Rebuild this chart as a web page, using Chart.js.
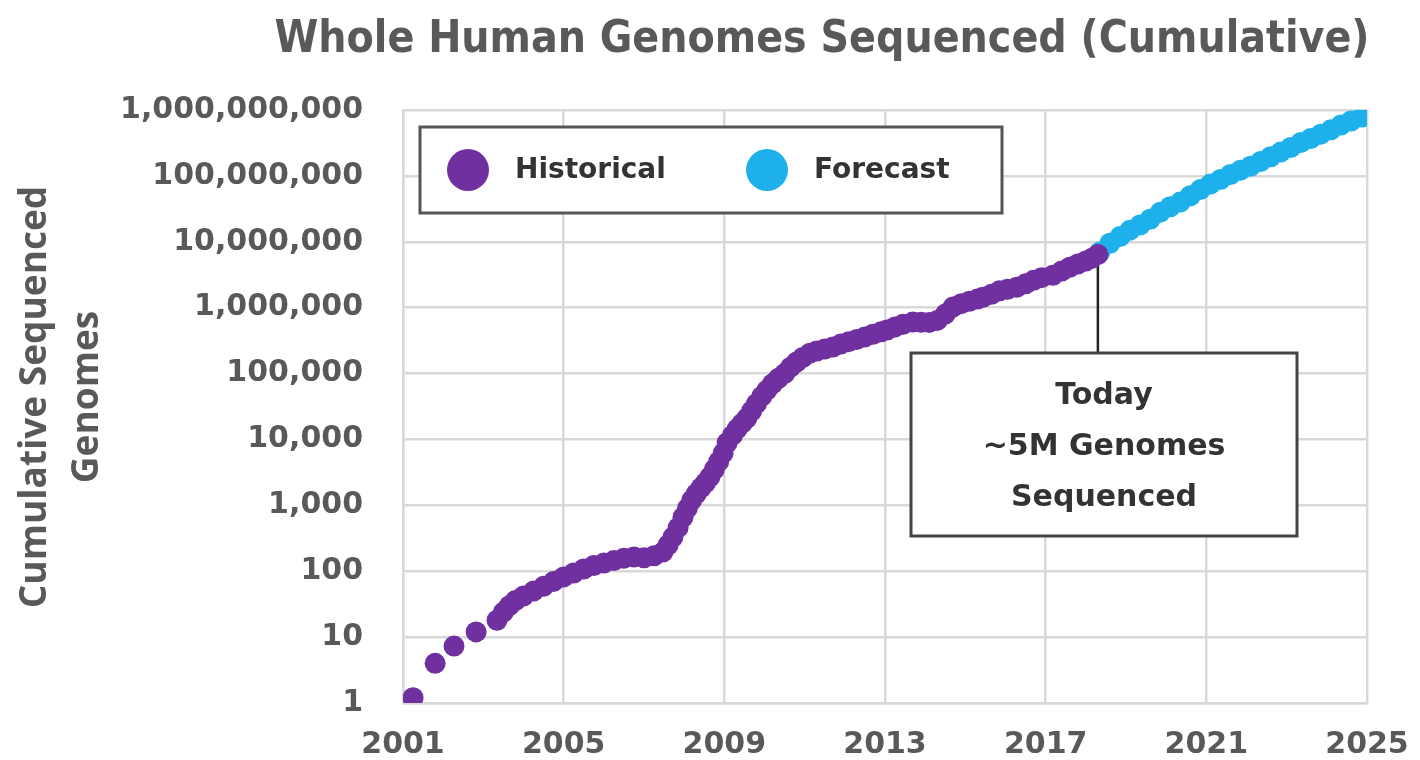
<!DOCTYPE html>
<html>
<head>
<meta charset="utf-8">
<script src="https://cdn.jsdelivr.net/npm/chart.js@4.4.1/dist/chart.umd.min.js"></script>
<style>
  html, body { margin: 0; padding: 0; background: #fff; }
  #wrap { width: 1420px; height: 760px; }
</style>
</head>
<body>
<div id="wrap"><canvas id="genomeChart" width="1420" height="760"></canvas></div>
<script>
// data (year, cumulative genomes)
const histYears = [
  2001.25, 2001.8, 2002.27, 2002.82, 2003.34, 2003.5, 2003.65, 2003.8, 2004.0, 2004.25,
  2004.5, 2004.75, 2005.0, 2005.25, 2005.5, 2005.75, 2006.0, 2006.25, 2006.5, 2006.75,
  2007.0, 2007.25, 2007.47, 2007.6, 2007.72, 2007.85, 2007.97, 2008.08, 2008.19, 2008.3,
  2008.42, 2008.53, 2008.64, 2008.75, 2008.86, 2008.97, 2009.07, 2009.2, 2009.32, 2009.44,
  2009.56, 2009.68, 2009.8, 2009.93, 2010.06, 2010.2, 2010.35, 2010.5, 2010.65, 2010.8,
  2010.95, 2011.13, 2011.3, 2011.5, 2011.7, 2011.9, 2012.1, 2012.3, 2012.5, 2012.7,
  2012.9, 2013.05, 2013.25, 2013.45, 2013.69, 2013.9, 2014.1, 2014.3, 2014.5, 2014.69,
  2014.9, 2015.1, 2015.3, 2015.44, 2015.65, 2015.85, 2016.05, 2016.28, 2016.5, 2016.7,
  2016.9, 2017.18, 2017.4, 2017.6, 2017.8, 2018.0, 2018.15, 2018.3
];
const histValues = [
  1.2, 4, 7.3, 12, 18, 24, 30, 36, 42, 50,
  59, 70, 82, 94, 108, 122, 133, 145, 158, 165,
  160, 172, 195, 250, 330, 460, 660, 900, 1200, 1500,
  1850, 2200, 2700, 3500, 4600, 6200, 8900, 11500, 14500, 17500,
  21000, 27000, 35000, 45000, 56000, 70000, 85000, 100000, 125000, 150000,
  175000, 204000, 220000, 235000, 252000, 280000, 305000, 330000, 360000, 395000,
  430000, 458000, 510000, 560000, 604000, 600000, 598000, 640000, 800000, 1020000,
  1150000, 1250000, 1350000, 1440000, 1600000, 1800000, 1900000, 2040000, 2300000, 2600000,
  2850000, 3100000, 3600000, 4100000, 4600000, 5100000, 5600000, 6400000
];
const foreYears = [
  2018.35, 2018.6, 2018.85, 2019.1, 2019.35, 2019.6, 2019.85, 2020.1, 2020.35, 2020.6,
  2020.85, 2021.1, 2021.35, 2021.6, 2021.85, 2022.1, 2022.35, 2022.6, 2022.85, 2023.1,
  2023.35, 2023.6, 2023.85, 2024.1, 2024.35, 2024.6, 2024.87
];
const foreValues = [
  7.0e6, 9.5e6, 12e6, 15e6, 18e6, 22e6, 28e6, 34e6, 40e6, 50e6,
  62e6, 75e6, 88e6, 105e6, 122e6, 140e6, 165e6, 195e6, 230e6, 270e6,
  320e6, 370e6, 430e6, 500e6, 590e6, 680e6, 780e6
];
const xTicks = [2001, 2005, 2009, 2013, 2017, 2021, 2025];
const yTicks = [1, 10, 100, 1e3, 1e4, 1e5, 1e6, 1e7, 1e8, 1e9];
const seriesNames = ['Historical', 'Forecast'];
const titleText = 'Whole Human Genomes Sequenced (Cumulative)';
const yTitleLines = ['Cumulative Sequenced', 'Genomes'];
const noteLines = ['Today', '~5M Genomes', 'Sequenced'];

const PURPLE = '#7030a0';
const BLUE = '#1eb0ea';
const GRID = '#d9d9d9';
const GRAY_TEXT = '#595959';
const DARK_TEXT = '#333333';
const BOLD_FONT = '"DejaVu Sans", sans-serif';

const todayYear = histYears[histYears.length - 1];
const todayValue = histValues[histValues.length - 1];

const toPoints = (xs, ys) => xs.map((x, i) => ({ x: x, y: ys[i] }));

// fixed boxes for the legend and the "Today" note
const legendBox = { left: 420, top: 127, right: 1002, bottom: 213 };
const noteBox = { left: 911, top: 353, right: 1297, bottom: 536 };

const decorPlugin = {
  id: 'decor',
  beforeDatasetsDraw(chart) {
    const { ctx, scales: { x, y } } = chart;
    const px = x.getPixelForValue(todayYear);
    const py = y.getPixelForValue(todayValue);
    ctx.save();
    ctx.strokeStyle = '#222';
    ctx.lineWidth = 2.5;
    ctx.beginPath();
    ctx.moveTo(px, py);
    ctx.lineTo(px, noteBox.top);
    ctx.stroke();
    ctx.restore();
  },
  afterDraw(chart) {
    const ctx = chart.ctx;
    ctx.save();

    // title, fitted to the width it has in the picture
    let size = 48;
    const titleFamily = '"DejaVu Sans Condensed", "Liberation Sans Narrow", sans-serif';
    ctx.font = 'bold ' + size + 'px ' + titleFamily;
    const w = ctx.measureText(titleText).width;
    size = size * 1095 / w;
    ctx.font = 'bold ' + size + 'px ' + titleFamily;
    ctx.fillStyle = GRAY_TEXT;
    ctx.textAlign = 'center';
    ctx.textBaseline = 'middle';
    ctx.fillText(titleText, 822, 41);

    // y axis title, rotated, two lines
    ctx.save();
    ctx.translate(0, 397);
    ctx.rotate(-Math.PI / 2);
    ctx.font = 'bold 37px "Open Sans", sans-serif';
    ctx.fillStyle = GRAY_TEXT;
    ctx.fillText(yTitleLines[0], 0, 35);
    ctx.fillText(yTitleLines[1], 0, 87);
    ctx.restore();

    // legend box
    ctx.fillStyle = '#fff';
    ctx.strokeStyle = '#555';
    ctx.lineWidth = 3;
    ctx.fillRect(legendBox.left, legendBox.top, legendBox.right - legendBox.left, legendBox.bottom - legendBox.top);
    ctx.strokeRect(legendBox.left, legendBox.top, legendBox.right - legendBox.left, legendBox.bottom - legendBox.top);
    const cy = (legendBox.top + legendBox.bottom) / 2;
    const entryX = [468, 767];
    ctx.font = 'bold 28px ' + BOLD_FONT;
    ctx.textAlign = 'left';
    chart.data.datasets.forEach((ds, i) => {
      ctx.fillStyle = ds.backgroundColor;
      ctx.beginPath();
      ctx.arc(entryX[i], cy, 21, 0, Math.PI * 2);
      ctx.fill();
      ctx.fillStyle = DARK_TEXT;
      ctx.fillText(ds.label, entryX[i] + 47, cy + 1);
    });

    // note box
    ctx.fillStyle = '#fff';
    ctx.strokeStyle = '#444';
    ctx.fillRect(noteBox.left, noteBox.top, noteBox.right - noteBox.left, noteBox.bottom - noteBox.top);
    ctx.strokeRect(noteBox.left, noteBox.top, noteBox.right - noteBox.left, noteBox.bottom - noteBox.top);
    ctx.fillStyle = DARK_TEXT;
    ctx.font = 'bold 30px ' + BOLD_FONT;
    ctx.textAlign = 'center';
    const ncx = (noteBox.left + noteBox.right) / 2;
    const ncy = (noteBox.top + noteBox.bottom) / 2;
    noteLines.forEach((line, i) => {
      ctx.fillText(line, ncx, ncy + (i - 1) * 51 + 3);
    });

    ctx.restore();
  }
};

new Chart(document.getElementById('genomeChart'), {
  type: 'scatter',
  data: {
    datasets: [
      {
        label: seriesNames[0],
        data: toPoints(histYears, histValues),
        backgroundColor: PURPLE,
        borderColor: PURPLE,
        pointRadius: 10.5,
        pointHoverRadius: 10.5,
        pointBorderWidth: 0
      },
      {
        label: seriesNames[1],
        data: toPoints(foreYears, foreValues),
        backgroundColor: BLUE,
        borderColor: BLUE,
        pointRadius: 10.5,
        pointHoverRadius: 10.5,
        pointBorderWidth: 0
      }
    ]
  },
  options: {
    responsive: false,
    animation: false,
    devicePixelRatio: 1,
    layout: { padding: { top: 110, right: 53, bottom: 0, left: 0 } },
    plugins: {
      legend: { display: false },
      title: { display: false },
      tooltip: { enabled: false }
    },
    scales: {
      x: {
        type: 'linear',
        min: 2001,
        max: 2025,
        afterBuildTicks: s => { s.ticks = xTicks.map(v => ({ value: v })); },
        afterFit: s => { s.height = 57; s.paddingLeft = 0; s.paddingRight = 0; },
        grid: { color: GRID, lineWidth: 2.5, drawTicks: false },
        border: { color: GRID, width: 2.5 },
        ticks: {
          padding: 24,
          color: GRAY_TEXT,
          font: { family: BOLD_FONT, size: 30, weight: 'bold' },
          callback: v => String(v)
        }
      },
      y: {
        type: 'logarithmic',
        min: 1,
        max: 1e9,
        afterBuildTicks: s => { s.ticks = yTicks.map(v => ({ value: v })); },
        afterFit: s => { s.width = 403; s.paddingTop = 0; s.paddingBottom = 0; },
        grid: { color: GRID, lineWidth: 2.5, drawTicks: false },
        border: { color: GRID, width: 2.5 },
        ticks: {
          padding: 40,
          color: GRAY_TEXT,
          font: { family: BOLD_FONT, size: 30, weight: 'bold' },
          callback: v => Number(v).toLocaleString('en-US')
        }
      }
    }
  },
  plugins: [decorPlugin]
});
</script>
</body>
</html>
